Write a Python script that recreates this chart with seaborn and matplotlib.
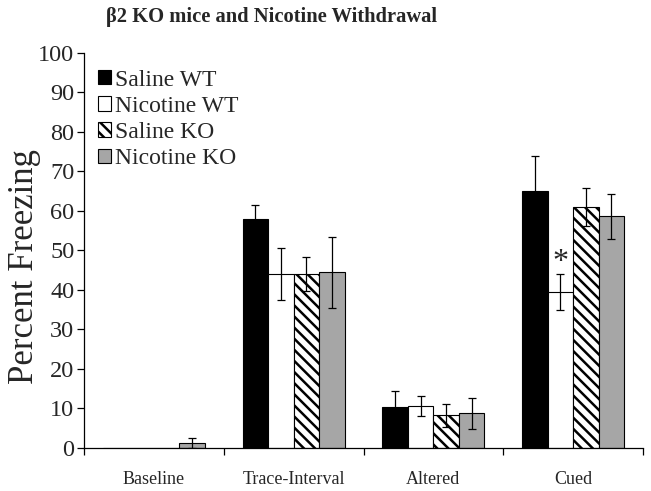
"""Recreate the beta2 KO nicotine withdrawal freezing bar chart."""

import numpy as np
import pandas as pd
import matplotlib
matplotlib.use("Agg")
import matplotlib.pyplot as plt
from matplotlib.patches import Patch
from matplotlib.ticker import FixedLocator
import seaborn as sns

sns.set_theme(style="ticks")
plt.rcParams["font.family"] = ["Liberation Serif", "DejaVu Serif"]
plt.rcParams["hatch.linewidth"] = 1.8

# Data
conditions = ["Baseline", "Trace-Interval", "Altered", "Cued"]
groups = ["Saline WT", "Nicotine WT", "Saline KO", "Nicotine KO"]
saline_wt = [0.0, 58.0, 10.3, 65.0]
nicotine_wt = [0.0, 44.0, 10.5, 39.5]
saline_ko = [0.0, 44.0, 8.2, 61.0]
nicotine_ko = [1.1, 44.5, 8.7, 58.6]
saline_wt_err = [0.0, 3.5, 4.1, 8.8]
nicotine_wt_err = [0.0, 6.5, 2.5, 4.6]
saline_ko_err = [0.0, 4.4, 2.9, 4.8]
nicotine_ko_err = [1.3, 9.0, 4.0, 5.8]

colors = ["black", "white", "white", "#a6a6a6"]
hatches = ["", "", "\\\\\\", ""]

values = [saline_wt, nicotine_wt, saline_ko, nicotine_ko]
errors = [saline_wt_err, nicotine_wt_err, saline_ko_err, nicotine_ko_err]

df = pd.DataFrame({
    "Condition": np.tile(conditions, len(groups)),
    "Group": np.repeat(groups, len(conditions)),
    "Value": np.concatenate(values),
    "Err": np.concatenate(errors),
})

fig = plt.figure(figsize=(6.51, 4.91), dpi=100)
ax = fig.add_axes([84 / 651, 1 - 447.7 / 491, 559 / 651, 394.7 / 491])

sns.barplot(
    data=df, x="Condition", y="Value", hue="Group",
    order=conditions, hue_order=groups, palette=colors,
    width=0.73, edgecolor="black", linewidth=0.8,
    errorbar=None, legend=False, ax=ax, zorder=2,
)

# hatch + error bars per group
for container, hatch, errs in zip(ax.containers, hatches, errors):
    xs, ys, es = [], [], []
    for bar, err in zip(container, errs):
        bar.set_hatch(hatch)
        if err > 0:
            xs.append(bar.get_x() + bar.get_width() / 2)
            ys.append(bar.get_height())
            es.append(err)
    ax.errorbar(xs, ys, yerr=es, fmt="none", ecolor="black",
                elinewidth=0.9, capsize=3, capthick=0.9, zorder=3)

# significance marker above Nicotine WT, Cued
cued_bar = ax.containers[1][3]
ax.text(cued_bar.get_x() + cued_bar.get_width() / 2, 47.0, "*",
        ha="center", va="center", fontsize=23, zorder=4)

ax.set_ylim(0, 100)
ax.set_xlim(-0.5, 3.5)
ax.set_yticks(range(0, 101, 10))
ax.tick_params(axis="y", labelsize=17.5, length=5, width=0.9, pad=2, color="black")
ax.tick_params(axis="x", which="major", labelsize=13, length=0, pad=17)
ax.xaxis.set_minor_locator(FixedLocator([-0.5, 0.5, 1.5, 2.5, 3.5]))
ax.tick_params(axis="x", which="minor", length=5, width=0.9, color="black")

ax.set_xlabel("")
ax.set_ylabel("Percent Freezing", fontsize=25)
ax.yaxis.set_label_coords(-0.077, 0.458)

sns.despine(ax=ax)
for side in ["left", "bottom"]:
    ax.spines[side].set_color("black")
    ax.spines[side].set_linewidth(0.9)

handles = [Patch(facecolor=c, edgecolor="black", hatch=h, linewidth=0.8)
           for c, h in zip(colors, hatches)]
ax.legend(handles, groups, loc="upper left", bbox_to_anchor=(0.017, 0.97),
          frameon=False, fontsize=17, handlelength=0.55, handleheight=0.55,
          handletextpad=0.15, labelspacing=0.22, borderaxespad=0, borderpad=0.2)

fig.text(271.5 / 651, 1 - 17 / 491, "\u03b22 KO mice and Nicotine Withdrawal",
         ha="center", va="center", fontsize=14.8, fontweight="bold")

fig.savefig("out.png", dpi=100)
